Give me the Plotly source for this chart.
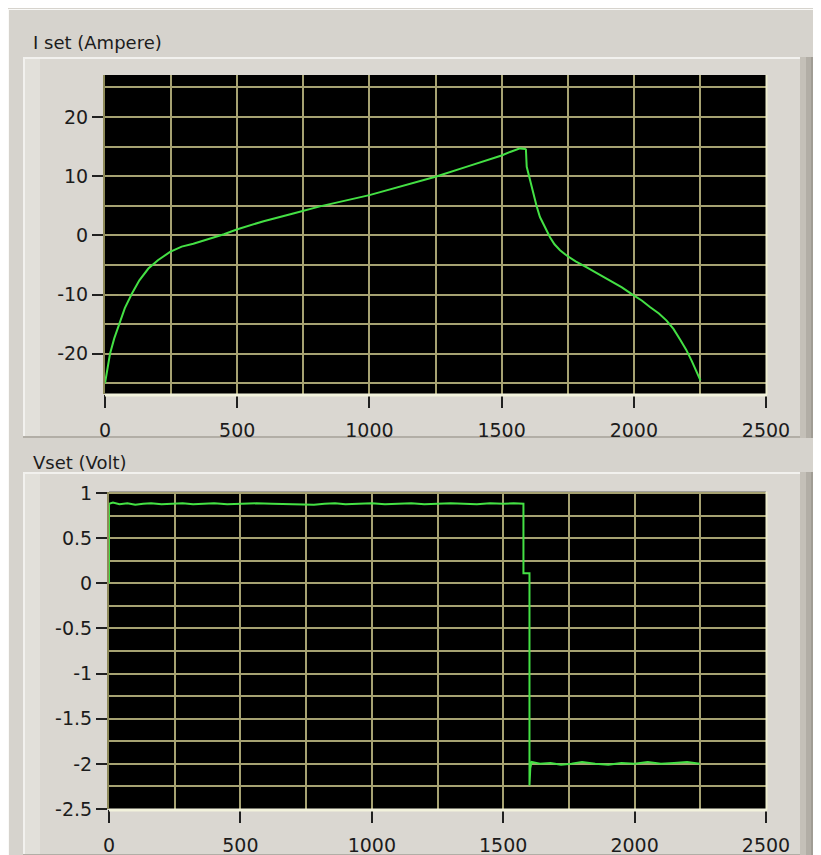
import plotly.graph_objects as go

# ---------------- data ----------------
i_x = [0, 4, 10, 19, 35, 54, 75, 101, 130, 164, 200, 246, 290, 334, 397, 450, 498,
       600, 712, 813, 1000, 1125, 1250, 1375, 1500, 1532, 1557, 1570, 1589, 1592,
       1595, 1608, 1620, 1632, 1645, 1664, 1683, 1700, 1721, 1746, 1780, 1822, 1866,
       1910, 1955, 1998, 2030, 2061, 2095, 2124, 2150, 2175, 2198, 2219, 2237, 2252]
i_y = [-25.0, -23.8, -22.2, -20.0, -17.4, -15.0, -12.3, -9.9, -7.6, -5.6, -4.2, -2.8,
       -1.9, -1.4, -0.6, 0.2, 1.0, 2.4, 3.7, 4.9, 6.8, 8.3, 9.9, 11.7, 13.5, 14.1,
       14.5, 14.7, 14.6, 14.5, 11.6, 9.2, 7.1, 5.0, 3.1, 1.3, -0.3, -1.5, -2.5, -3.4,
       -4.4, -5.4, -6.5, -7.6, -8.8, -10.1, -11.0, -12.1, -13.2, -14.4, -15.8, -17.6,
       -19.3, -21.2, -23.0, -24.5]

v_x = [0, 0, 15, 40, 70, 100, 130, 160, 200, 240, 280, 320, 360, 400, 450, 500, 560,
       620, 680, 740, 780, 820, 860, 900, 950, 1000, 1050, 1100, 1150, 1200, 1250,
       1300, 1350, 1400, 1450, 1500, 1540, 1577, 1577, 1600, 1600, 1603, 1608, 1640,
       1680, 1720, 1760, 1800, 1850, 1900, 1950, 2000, 2050, 2100, 2150, 2200, 2248]
v_y = [0.0, 0.88, 0.895, 0.875, 0.885, 0.87, 0.88, 0.885, 0.875, 0.88, 0.885, 0.875,
       0.88, 0.885, 0.875, 0.88, 0.885, 0.88, 0.875, 0.865, 0.87, 0.88, 0.885, 0.875,
       0.88, 0.885, 0.875, 0.88, 0.885, 0.875, 0.88, 0.885, 0.88, 0.875, 0.885, 0.88,
       0.885, 0.88, 0.11, 0.11, -2.24, -2.05, -1.98, -2.0, -1.99, -2.01, -2.0, -1.98,
       -2.0, -2.01, -1.99, -2.0, -1.98, -2.0, -1.99, -1.98, -2.0]

x_ticks = [0, 500, 1000, 1500, 2000, 2500]
x_ticktext = ["0", "500", "1000", "1500", "2000", "2500"]
i_ticks = [20, 10, 0, -10, -20]
i_ticktext = ["20", "10", "0", "-10", "-20"]
v_ticks = [1, 0.5, 0, -0.5, -1, -1.5, -2, -2.5]
v_ticktext = ["1", "0.5", "0", "-0.5", "-1", "-1.5", "-2", "-2.5"]

# ---------------- layout helpers ----------------
# the page has an 8px body margin, so the figure is placed at (8, 8)
OFF = 8
W, H = 821 - OFF, 855 - OFF
def px(x):
    return (x - OFF) / W
def py(y):
    return 1 - (y - OFF) / H

GREEN = "#44E044"
GRID = "#A6A272"
FONT = "DejaVu Sans"
TXT = "#1c1c1c"

fig = go.Figure()
fig.add_trace(go.Scatter(x=i_x, y=i_y, mode="lines", line=dict(color=GREEN, width=2),
                         xaxis="x", yaxis="y", showlegend=False))
fig.add_trace(go.Scatter(x=v_x, y=v_y, mode="lines", line=dict(color=GREEN, width=2),
                         xaxis="x2", yaxis="y2", showlegend=False))

def xax(domain, anchor):
    return dict(domain=domain, anchor=anchor, range=[0, 2500], tickmode="array",
                tickvals=x_ticks, ticktext=x_ticktext, ticks="outside", ticklen=13,
                tickwidth=2, tickcolor="#202020", showgrid=True, gridcolor=GRID,
                gridwidth=1.5, zeroline=False, showline=False, ticklabelstandoff=6,
                minor=dict(tickmode="linear", tick0=0, dtick=250, showgrid=True,
                           gridcolor=GRID, gridwidth=1.5, ticks=""),
                tickfont=dict(family=FONT, size=19, color=TXT), automargin=False,
                fixedrange=True)

def yax(domain, anchor, rng, vals, text, minor_dtick, tick0):
    return dict(domain=domain, anchor=anchor, range=rng, tickmode="array",
                tickvals=vals, ticktext=text, ticks="outside", ticklen=11,
                tickwidth=2, tickcolor="#202020", showgrid=True, gridcolor=GRID,
                gridwidth=1.5, zeroline=False, showline=True, linecolor="#8E8A5A",
                linewidth=2,
                minor=dict(tickmode="linear", tick0=tick0, dtick=minor_dtick,
                           showgrid=True, gridcolor=GRID, gridwidth=1.5, ticks=""),
                tickfont=dict(family=FONT, size=19, color=TXT), automargin=False,
                fixedrange=True)

shapes = []
def rect(x0, y0, x1, y1, fill, layer="below"):
    shapes.append(dict(type="rect", xref="paper", yref="paper",
                       x0=px(x0), x1=px(x1), y0=py(y1), y1=py(y0),
                       fillcolor=fill, line=dict(width=0), layer=layer))
def hline(x0, x1, y, color, w=1, layer="below"):
    shapes.append(dict(type="line", xref="paper", yref="paper", x0=px(x0), x1=px(x1),
                       y0=py(y), y1=py(y), line=dict(color=color, width=w), layer=layer))
def vline(x, y0, y1, color, w=1, layer="below"):
    shapes.append(dict(type="line", xref="paper", yref="paper", x0=px(x), x1=px(x),
                       y0=py(y0), y1=py(y1), line=dict(color=color, width=w), layer=layer))

# window edge line
hline(8, 821, 9.5, "#FAFAF8", 1)
vline(8.5, 9, 855, "#FAFAF8", 1)

# panels
for (t, b) in [(57, 438), (472, 856)]:
    rect(23, t, 800, b, "#DAD7D1")
    rect(23, t, 40, b, "#E2E0DA")
    hline(23, 800, t + 1, "#F2F1EE", 2)
    vline(24, t, b, "#F2F1EE", 2)
    hline(23, 800, b - 1, "#B2AEA6", 2)
    rect(800, t, 806, b, "#C4C0B8")
    rect(806, t, 811, b, "#B2AEA6")
    rect(811, t, 816, b, "#A09C94")
    rect(816, t, 822, b, "#8E8A82")

# black plot areas (drawn under the grid)
PLOTS = [(105, 75, 766, 394), (109, 491.7, 766, 809)]
for (l, t, r, b) in PLOTS:
    rect(l, t, r, b, "#000000")

# light plot borders (right and bottom)
for (l, t, r, b) in PLOTS:
    vline(r + 0.5, t, b + 1, "#EEEED0", 2, layer="above")
    hline(l, r + 1, b + 1, "#F2F2DC", 3, layer="above")

fig.update_layout(
    width=W, height=H,
    margin=dict(l=0, r=0, t=0, b=0),
    paper_bgcolor="#D6D3CD",
    plot_bgcolor="#000000",
    xaxis=xax([px(105), px(766)], "y"),
    yaxis=yax([py(394), py(75)], "x", [-26.8, 27.1], i_ticks, i_ticktext, 5, 0),
    xaxis2=xax([px(109), px(766)], "y2"),
    yaxis2=yax([py(809), py(491.7)], "x2", [-2.5, 1.014], v_ticks, v_ticktext, 0.25, 0),
    shapes=shapes,
    annotations=[
        dict(text="I set (Ampere)", xref="paper", yref="paper", x=px(31), y=py(43),
             xanchor="left", yanchor="middle", showarrow=False,
             font=dict(family=FONT, size=18, color=TXT)),
        dict(text="Vset (Volt)", xref="paper", yref="paper", x=px(31), y=py(462),
             xanchor="left", yanchor="middle", showarrow=False,
             font=dict(family=FONT, size=18, color=TXT)),
    ],
    showlegend=False,
)

fig.write_html("out.html", config={"displayModeBar": False})
